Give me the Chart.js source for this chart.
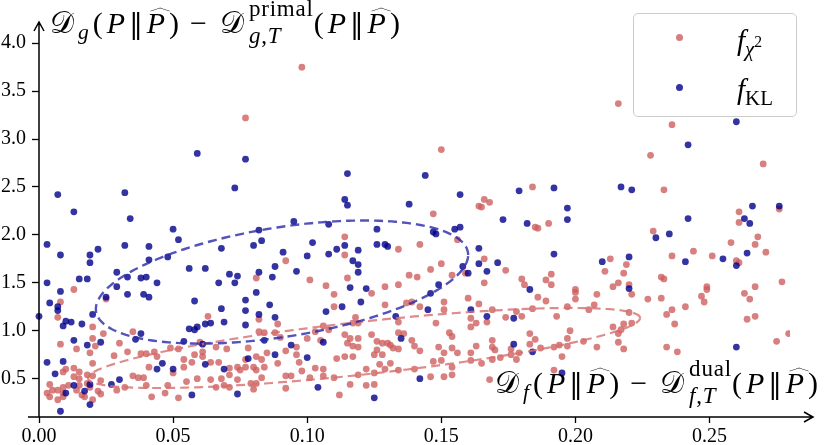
<!DOCTYPE html>
<html><head><meta charset="utf-8">
<script src="https://cdn.jsdelivr.net/npm/chart.js@4.4.0/dist/chart.umd.min.js"></script>
<style>
html,body{margin:0;padding:0;background:#fff;}
#wrap{position:relative;width:830px;height:445px;overflow:hidden;background:#fff;}
#c{position:absolute;left:0;top:0;}
.lbl{position:absolute;font-family:'Liberation Serif','DejaVu Serif',serif;font-size:28px;line-height:1;white-space:nowrap;color:#000;}
.t{font-size:30px;letter-spacing:4px;}
.lbl i{font-style:italic;}
.cal{font-family:'DejaVu Sans','DejaVu Serif','Noto Sans',serif;font-style:normal;}
.lbl sub{font-size:0.72em;vertical-align:-0.3em;line-height:0;}
.lbl sup{font-size:0.75em;vertical-align:0.55em;line-height:0;}
.ss{display:inline-flex;flex-direction:column;font-size:23px;line-height:27px;vertical-align:baseline;position:relative;top:-17px;margin-left:1px;letter-spacing:0.8px;}
.op{margin:0 9px 0 7px;}
.hat{position:relative;display:inline-block;}
.hat::before{content:'';position:absolute;left:0.2em;top:-0.13em;width:0.44em;height:0.44em;border-left:1.3px solid #000;border-top:1.3px solid #000;transform:scaleY(0.33) rotate(45deg);}
.par{font-family:'DejaVu Serif','Liberation Serif',serif;font-style:normal;font-size:0.9em;}
#legend{position:absolute;left:633px;top:13px;width:164px;height:104px;box-sizing:border-box;border:1.5px solid #cccccc;border-radius:5px;background:rgba(255,255,255,0.8);}
.dot{position:absolute;width:7px;height:7px;border-radius:50%;}
</style></head>
<body><div id="wrap"><canvas id="c" width="830" height="445"></canvas>
<div class="lbl t" id="ytitle" style="left:50px;top:8px;"><span class="cal">𝒟</span><sub><i>g</i></sub>(<i>P</i><span class="par">‖</span><span class="hat"><i>P</i></span>)<span class="op">−</span><span class="cal">𝒟</span><span class="ss"><span>primal</span><span><i>g</i>,<i>T</i></span></span>(<i>P</i><span class="par">‖</span><span class="hat"><i>P</i></span>)</div>
<div class="lbl t" id="xtitle" style="left:495px;top:368px;"><span class="cal">𝒟</span><sub><i>f</i></sub>(<i>P</i><span class="par">‖</span><span class="hat"><i>P</i></span>)<span class="op">−</span><span class="cal">𝒟</span><span class="ss"><span>dual</span><span><i>f</i>,<i>T</i></span></span>(<i>P</i><span class="par">‖</span><span class="hat"><i>P</i></span>)</div>
<div id="legend"></div>
<div class="dot" style="left:675.5px;top:33.5px;background:rgba(205,92,92,0.8);"></div>
<div class="dot" style="left:675.5px;top:83.5px;background:rgba(0,0,139,0.8);"></div>
<div class="lbl" style="left:737px;top:26px;font-size:29px;"><i>f</i><sub><i>χ</i><sup>2</sup></sub></div>
<div class="lbl" style="left:737px;top:75px;font-size:29px;"><i>f</i><sub>KL</sub></div>
</div>
<script>
const xTickValues = [0, 0.05, 0.10, 0.15, 0.20, 0.25];
const xTickLabels = ['0.00', '0.05', '0.10', '0.15', '0.20', '0.25'];
const yTickValues = [0.5, 1.0, 1.5, 2.0, 2.5, 3.0, 3.5, 4.0];
const yTickLabels = ['0.5', '1.0', '1.5', '2.0', '2.5', '3.0', '3.5', '4.0'];
const xRange = [0, 0.28];
const yRange = [0.1, 4.2];

const chiSquarePoints = [
[0.098,3.75],[0.077,3.22],[0.150,2.89],[0.216,3.37],[0.236,3.15],[0.228,2.83],[0.270,2.74],[0.233,2.47],[0.276,2.27],[0.261,2.24],[0.261,2.13],[0.229,2.04],[0.268,1.98],[0.258,1.92],[0.267,1.90],[0.271,1.82],[0.244,1.83],[0.236,1.78],[0.251,1.78],[0.260,1.73],[0.261,1.71],[0.219,1.69],[0.218,1.60],[0.232,1.56],[0.233,1.54],[0.220,1.48],[0.221,1.38],[0.227,1.33],[0.232,1.34],[0.249,1.46],[0.249,1.43],[0.247,1.36],[0.248,1.30],[0.277,1.51],[0.267,1.46],[0.263,1.39],[0.265,1.33],[0.241,1.25],[0.236,1.22],[0.234,1.17],[0.220,1.19],[0.237,1.07],[0.264,1.12],[0.267,1.15],[0.218,1.07],[0.221,1.08],[0.217,1.01],[0.275,0.89],[0.2795,0.97],[0.234,0.83],[0.238,0.78],[0.218,0.81],
[0.184,2.50],[0.166,2.37],[0.168,2.34],[0.164,2.30],[0.165,2.29],[0.190,2.12],[0.185,2.08],[0.186,2.07],[0.147,2.22],[0.156,1.95],[0.166,1.75],[0.150,1.70],[0.146,1.64],[0.174,1.63],[0.154,1.58],[0.159,1.60],[0.166,1.50],[0.180,1.54],[0.181,1.48],[0.189,1.53],[0.191,1.59],[0.191,1.48],[0.213,1.75],[0.211,1.62],[0.216,1.50],[0.214,1.46],[0.200,1.43],
[0.114,1.98],[0.092,1.73],[0.114,1.79],[0.134,1.85],[0.142,1.90],[0.081,1.55],[0.101,1.53],[0.115,1.55],[0.138,1.58],[0.141,1.56],
[0.107,1.47],[0.110,1.38],[0.129,1.46],[0.134,1.48],[0.129,1.27],[0.124,1.39],[0.137,1.29],[0.139,1.30],[0.110,1.25],[0.118,1.14],[0.117,1.08],[0.119,1.08],[0.142,1.25],[0.148,1.08],[0.134,1.09],[0.082,1.12],[0.089,1.07],[0.106,1.05],[0.108,1.01],[0.103,0.99],[0.082,0.99],[0.084,0.98],[0.088,0.98],[0.090,0.93],[0.100,0.92],[0.105,0.90],[0.114,0.96],[0.116,0.92],[0.119,0.92],[0.115,0.87],[0.117,0.84],[0.119,0.83],[0.124,0.96],[0.126,0.89],[0.128,0.87],[0.130,0.87],[0.131,0.85],[0.132,0.82],[0.134,0.81],[0.134,0.98],[0.136,0.97],[0.139,0.90],[0.140,0.84],[0.142,0.79],[0.149,0.83],[0.078,0.82],[0.085,0.77],[0.092,0.79],[0.096,0.83],[0.096,0.75],[0.097,0.67],[0.081,0.73],[0.083,0.70],[0.089,0.66],[0.077,0.70],[0.111,0.71],[0.114,0.73],[0.117,0.73],[0.125,0.75],[0.128,0.75],[0.127,0.65],[0.129,0.60],[0.131,0.66],[0.122,0.60],[0.126,0.80],[0.134,0.59],[0.140,0.60],[0.147,0.68],[0.074,0.62],[0.075,0.59],[0.077,0.62],[0.080,0.62],[0.081,0.59],[0.084,0.62],[0.092,0.53],[0.094,0.53],[0.098,0.58],[0.101,0.51],[0.103,0.61],[0.106,0.60],[0.106,0.53],[0.110,0.51],[0.119,0.54],[0.125,0.56],[0.083,0.51],[0.079,0.45],[0.081,0.45],[0.080,0.39],[0.092,0.40],[0.112,0.33],[0.116,0.44],[0.122,0.43],[0.125,0.44],[0.071,0.61],[0.071,0.54],
[0.013,1.43],[0.008,1.30],[0.007,1.14],[0.025,1.33],[0.020,1.04],[0.020,0.92],[0.008,0.86],[0.014,0.81],[0.021,0.84],[0.030,0.87],[0.035,0.99],[0.033,0.78],[0.028,0.74],[0.020,0.66],[0.038,0.76],[0.040,0.76],[0.043,0.78],[0.044,0.73],[0.041,0.62],[0.049,0.82],[0.052,0.81],[0.054,0.70],[0.054,0.62],[0.057,0.67],[0.058,0.75],[0.061,0.73],[0.061,0.78],[0.063,1.15],[0.060,0.88],[0.066,0.83],[0.070,0.81],[0.064,0.67],[0.067,0.67],[0.050,0.56],[0.059,0.50],[0.055,0.47],[0.064,0.49],[0.068,0.50],[0.069,0.43],[0.066,0.41],[0.071,0.41],[0.074,0.49],[0.010,0.60],[0.013,0.61],[0.015,0.57],[0.013,0.52],[0.015,0.50],[0.020,0.53],[0.023,0.48],[0.003,0.35],[0.004,0.31],[0.007,0.38],[0.009,0.35],[0.009,0.31],[0.014,0.38],[0.016,0.33],[0.017,0.31],[0.015,0.43],[0.019,0.41],[0.022,0.37],[0.023,0.34],[0.029,0.38],[0.004,0.44],[0.009,0.41],[0.035,0.53],[0.037,0.51],[0.039,0.51],[0.040,0.43],[0.042,0.31],[0.047,0.35],[0.052,0.30],[0.048,0.43],[0.032,0.41],[0.005,0.38],[0.007,0.28],[0.011,0.43],[0.018,0.54],[0.009,0.57],[0.018,0.45],[0.020,0.28],[0.024,0.97],[0.019,0.77],
[0.151,1.30],[0.151,1.22],[0.160,1.34],[0.164,1.28],[0.169,1.22],[0.184,1.23],[0.186,1.35],[0.189,1.31],[0.193,1.15],[0.197,1.25],[0.200,1.40],[0.200,1.33],[0.205,1.22],[0.207,1.27],[0.208,1.38],[0.214,1.04],[0.216,0.97],[0.216,0.88],[0.161,1.13],[0.161,1.04],[0.163,1.08],[0.167,1.09],[0.178,1.20],[0.180,1.15],[0.174,1.14],[0.183,0.97],[0.185,0.91],[0.198,1.00],[0.197,0.92],[0.194,0.85],[0.203,0.89],[0.208,0.83],[0.153,0.98],[0.154,0.94],[0.154,0.82],[0.151,0.77],[0.156,0.77],[0.163,0.84],[0.169,0.90],[0.170,0.80],[0.176,0.81],[0.176,0.75],[0.172,0.72],[0.161,0.77],[0.169,0.70],[0.187,0.82],[0.195,0.73],[0.183,0.86],
[0.169,0.83],[0.179,0.77],[0.192,0.83],[0.197,0.84],[0.150,0.69],[0.154,0.62],[0.154,0.54],[0.151,0.52],[0.146,0.52],[0.161,0.69],[0.165,0.66],[0.178,0.70],[0.192,0.59],[0.168,0.49]
];

const klPoints = [
[0.059,2.85],[0.007,2.42],[0.032,2.44],[0.073,2.49],[0.013,2.24],[0.034,2.17],[0.050,2.06],[0.003,1.90],[0.052,1.95],[0.032,1.89],[0.041,1.88],[0.022,1.85],[0.068,1.86],[0.008,1.79],[0.019,1.79],[0.019,1.71],[0.041,1.74],[0.048,1.77],[0.056,1.65],[0.062,1.65],[0.029,1.61],[0.071,1.59],[0.074,1.57],[0.015,1.54],[0.018,1.54],[0.033,1.56],[0.038,1.55],[0.040,1.56],[0.003,1.50],[0.044,1.50],[0.067,1.50],[0.073,1.50],[0.008,1.41],[0.004,1.29],[0.007,1.25],[0.007,1.21],[0.025,1.35],[0.033,1.38],[0.029,1.46],[0.039,1.38],[0.041,1.35],[0.058,1.31],[0.000,1.15],[0.020,1.17],[0.010,1.10],[0.012,1.09],[0.009,1.05],[0.016,1.07],[0.068,1.23],[0.069,1.09],[0.064,1.08],[0.062,1.07],[0.059,1.04],[0.058,1.01],[0.056,1.02],[0.038,0.97],[0.036,0.91],[0.013,0.90],[0.023,0.88],[0.018,0.85],[0.054,0.89],[0.061,0.86],[0.003,0.67],[0.009,0.68],[0.046,0.66],[0.044,0.60],[0.050,0.60],[0.062,0.65],[0.069,0.60],[0.006,0.55],[0.030,0.49],[0.027,0.44],[0.013,0.43],[0.019,0.44],[0.017,0.37],[0.010,0.35],[0.057,0.33],[0.074,0.34],[0.019,0.23],[0.008,0.16],
[0.082,1.61],[0.087,1.56],[0.096,1.62],[0.119,1.61],[0.116,1.45],[0.122,1.44],[0.081,1.40],[0.077,1.32],[0.086,1.27],[0.077,1.21],[0.082,1.17],[0.088,1.14],[0.077,1.06],[0.107,1.20],[0.113,1.25],[0.120,1.30],[0.146,1.39],[0.149,1.48],[0.145,1.22],[0.133,1.15],[0.084,0.90],[0.094,0.85],[0.106,0.88],[0.135,0.92],[0.088,0.75],[0.100,0.72],[0.078,0.71],[0.104,0.41],[0.142,0.50],[0.125,0.30],
[0.077,2.79],[0.115,2.64],[0.114,2.37],[0.115,2.31],[0.144,2.62],[0.138,2.32],[0.095,2.14],[0.108,2.11],[0.082,2.05],[0.083,1.94],[0.080,1.89],[0.102,1.92],[0.126,2.06],[0.147,2.03],[0.148,2.01],[0.114,1.89],[0.111,1.85],[0.108,1.80],[0.100,1.78],[0.091,1.82],[0.119,1.84],[0.126,1.90],[0.129,1.90],[0.130,1.88],[0.117,1.73],[0.119,1.69],[0.088,1.67],
[0.157,2.42],[0.179,2.46],[0.192,2.49],[0.217,2.50],[0.221,2.47],[0.197,2.28],[0.197,2.16],[0.173,2.16],[0.182,2.12],[0.155,2.06],[0.157,2.08],[0.164,1.86],[0.192,1.80],[0.164,1.70],[0.167,1.62],[0.171,1.71],[0.158,1.67],[0.160,1.60],[0.210,1.72],[0.220,1.77],[0.220,1.44],[0.183,1.43],
[0.161,1.22],[0.167,1.15],[0.177,1.13],[0.177,0.86],[0.184,0.78],[0.195,0.56],
[0.260,3.18],[0.242,2.94],[0.266,2.30],[0.276,2.30],[0.263,2.17],[0.265,2.12],[0.242,2.17],[0.230,1.97],[0.235,2.01],[0.264,1.81],[0.255,1.75],[0.241,1.72],[0.260,1.68],[0.260,0.83]
];

// confidence ellipses: centre and two conjugate semi-axis vectors (data units)
const chiEllipseCenter = [0.1212, 0.82];
const chiEllipseU = [0.1029, 0.313];
const chiEllipseV = [0, 0.2765];
const klEllipseCenter = [0.0906, 1.508];
const klEllipseU = [0.0694, 0.2817];
const klEllipseV = [0, 0.577];

const toXY = arr => arr.map(p => ({x: p[0], y: p[1]}));

function drawEllipse(ctx, xs, ys, c, u, v, color, lw, dash) {
  ctx.save();
  ctx.beginPath();
  const n = 240;
  for (let i = 0; i <= n; i++) {
    const t = i / n * 2 * Math.PI;
    const dx = c[0] + u[0] * Math.cos(t) + v[0] * Math.sin(t);
    const dy = c[1] + u[1] * Math.cos(t) + v[1] * Math.sin(t);
    const px = xs.getPixelForValue(dx), py = ys.getPixelForValue(dy);
    if (i === 0) ctx.moveTo(px, py); else ctx.lineTo(px, py);
  }
  ctx.strokeStyle = color;
  ctx.lineWidth = lw;
  ctx.setLineDash(dash);
  ctx.stroke();
  ctx.restore();
}

const overlay = {
  id: 'overlay',
  afterDatasetsDraw(chart) {
    const {ctx, scales: {x, y}} = chart;
    drawEllipse(ctx, x, y, chiEllipseCenter, chiEllipseU, chiEllipseV, 'rgba(215,110,110,0.8)', 2.2, [9, 5]);
    drawEllipse(ctx, x, y, klEllipseCenter, klEllipseU, klEllipseV, 'rgba(40,40,170,0.8)', 2.4, [9, 5]);
  },
  afterDraw(chart) {
    const {ctx, chartArea: a} = chart;
    ctx.save();
    ctx.strokeStyle = '#000';
    ctx.lineWidth = 1.5;
    ctx.setLineDash([]);
    ctx.beginPath();
    ctx.moveTo(a.left, a.bottom); ctx.lineTo(a.left, 22);
    ctx.moveTo(a.left - 5, 31); ctx.lineTo(a.left, 22); ctx.lineTo(a.left + 5, 31);
    ctx.moveTo(28, a.bottom); ctx.lineTo(813, a.bottom);
    ctx.moveTo(804, a.bottom - 5); ctx.lineTo(813, a.bottom); ctx.lineTo(804, a.bottom + 5);
    ctx.stroke();
    ctx.restore();
  }
};

const tickFont = {family: "'Liberation Serif', 'DejaVu Serif', serif", size: 20};

new Chart(document.getElementById('c'), {
  type: 'scatter',
  data: {
    datasets: [
      {label: 'f_chi2', data: toXY(chiSquarePoints), backgroundColor: 'rgba(205,92,92,0.78)', borderWidth: 0, pointRadius: 3.4, pointHoverRadius: 3.4, order: 2, clip: {left: 6, top: 6, right: 0, bottom: 6}},
      {label: 'f_KL', data: toXY(klPoints), backgroundColor: 'rgba(0,0,139,0.8)', borderWidth: 0, pointRadius: 3.4, pointHoverRadius: 3.4, order: 1, clip: {left: 6, top: 6, right: 0, bottom: 6}}
    ]
  },
  options: {
    responsive: false,
    animation: false,
    devicePixelRatio: 1,
    layout: {padding: {top: 24, right: 40, left: 0, bottom: 0}},
    plugins: {legend: {display: false}, tooltip: {enabled: false}},
    scales: {
      x: {
        type: 'linear', position: 'bottom', min: xRange[0], max: xRange[1],
        afterFit(s) { s.height = 28; },
        afterBuildTicks(s) { s.ticks = xTickValues.map(v => ({value: v})); },
        ticks: {callback: (v, i) => xTickLabels[i], font: tickFont, color: '#000', padding: 2, maxRotation: 0, autoSkip: false},
        grid: {display: true, drawOnChartArea: false, drawTicks: true, tickLength: 6, tickColor: '#000', tickWidth: 1.3},
        border: {display: false}
      },
      y: {
        type: 'linear', position: 'left', min: yRange[0], max: yRange[1],
        afterFit(s) { s.width = 39; },
        afterBuildTicks(s) { s.ticks = yTickValues.map(v => ({value: v})); },
        ticks: {callback: (v, i) => yTickLabels[i], font: tickFont, color: '#000', padding: 6, autoSkip: false},
        grid: {display: true, drawOnChartArea: false, drawTicks: true, tickLength: 7, tickColor: '#000', tickWidth: 1.3},
        border: {display: false}
      }
    }
  },
  plugins: [overlay]
});
</script>
</body></html>
